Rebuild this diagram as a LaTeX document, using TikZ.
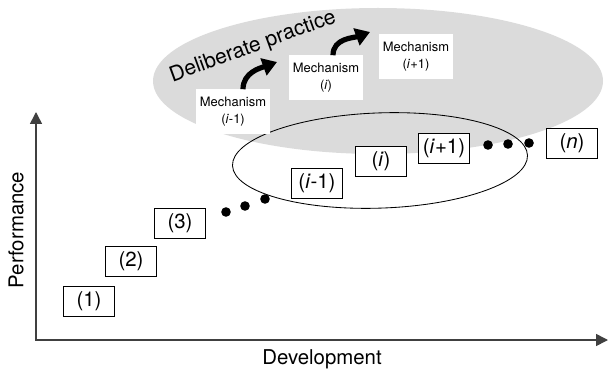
\documentclass[tikz,border=0pt]{standalone}
\usepackage{fontspec}
\setmainfont{TeX Gyre Heros}
\usetikzlibrary{arrows.meta}

\tikzset{
  stage/.style={draw=black, line width=0.6pt, fill=white, minimum width=1.275cm,
    minimum height=0.75cm, inner sep=0pt, font=\fontsize{14.5}{16}\selectfont},
  mech/.style={fill=white, minimum height=1.125cm, inner xsep=0.1cm, align=center,
    font=\fontsize{9.2}{12}\selectfont},
  dot/.style={circle, fill=black, inner sep=0pt, minimum size=0.24cm},
  bendarrow/.style={line width=0.13cm, -{Triangle[length=0.36cm, width=0.44cm]}},
  axisline/.style={draw=black!75, line width=1.1pt,
    {Triangle[length=0.3cm, width=0.3cm]}-{Triangle[length=0.3cm, width=0.3cm]}},
}

\begin{document}
\begin{tikzpicture}
\useasboundingbox (0,0) rectangle (15.225,9.35);

% the practice cloud
\fill[black!14] (9.45,7.325) ellipse [x radius=5.625, y radius=1.825];
\node[rotate=20, font=\fontsize{15}{17}\selectfont] (dp) at (6.325,8.175) {Deliberate practice};

% the group of stages it acts on
\draw[line width=0.6pt, rotate around={2:(9.5,5.3375)}] (9.5,5.3375) ellipse [x radius=3.69, y radius=1.19];

% axes
\coordinate (o) at (0.9,0.85);
\coordinate (ytip) at (0.9,6.55);
\coordinate (xtip) at (15.2,0.85);
\draw[axisline] (ytip) -- (o) -- (xtip);
\node[rotate=90, font=\fontsize{14.5}{16}\selectfont] (perf) at (0.4,3.6) {Performance};
\node[font=\fontsize{14.5}{16}\selectfont] (dev) at (8.05,0.375) {Development};

% stages
\node[stage] (s1) at (2.225,1.825) {(1)};
\node[stage] (s2) at (3.275,2.825) {(2)};
\node[stage] (s3) at (4.5,3.775) {(3)};
\node[stage] (si1) at (7.925,4.775) {(\textit{i}-1)};
\node[stage] (si) at (9.525,5.325) {(\textit{i})};
\node[stage] (sip) at (11.1,5.65) {(\textit{i}+1)};
\node[stage] (sn) at (14.3,5.775) {(\textit{n})};

\node[dot] (d1) at (5.65,4.05) {};
\node[dot] (d2) at (6.125,4.2) {};
\node[dot] (d3) at (6.625,4.375) {};
\node[dot] (d4) at (12.2,5.725) {};
\node[dot] (d5) at (12.7,5.75) {};
\node[dot] (d6) at (13.225,5.775) {};

% mechanisms
\node[mech] (mi1) at (5.825,6.55) {Mechanism\\(\textit{i}-1)};
\node[mech] (mi) at (8.15,7.4) {Mechanism\\(\textit{i})};
\node[mech] (mip) at (10.4,7.925) {Mechanism\\(\textit{i}+1)};

\coordinate (a1) at (6.925,7.8);
\coordinate (a2) at (9.25,8.55);
\draw[bendarrow] ([xshift=0.25cm]mi1.north) to[out=90, in=200] (a1);
\draw[bendarrow] ([xshift=0.175cm]mi.north) to[out=90, in=200] (a2);

\end{tikzpicture}
\end{document}
